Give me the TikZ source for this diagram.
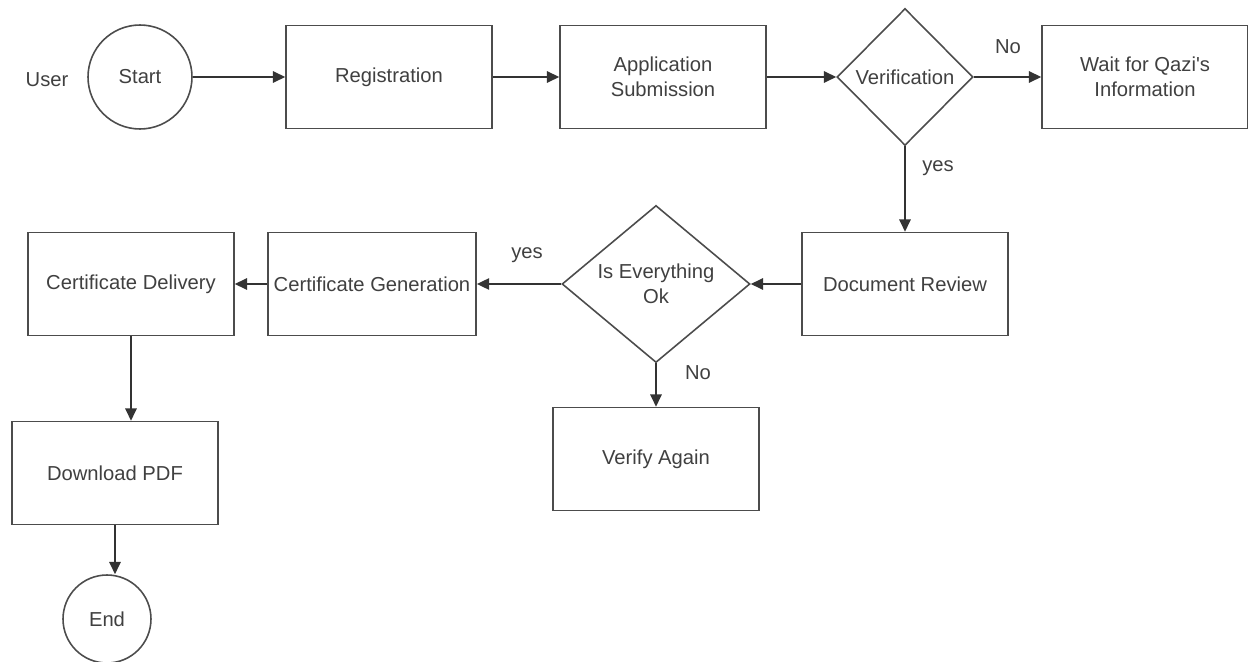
\documentclass[tikz,border=0pt]{standalone}
\usepackage{fontspec}
\setmainfont{Liberation Sans}
\usetikzlibrary{shapes.geometric,arrows.meta}

\begin{document}
\begin{tikzpicture}[x=0.02cm, y=-0.02cm, font=\fontsize{11.5}{14.5}\selectfont, >={Triangle[length=7pt,width=6.5pt]}]

\tikzstyle{every node} = [text=black!75]
\tikzstyle{box} = [rectangle, draw=black!70, line width=0.9pt, fill=white, minimum width=4.12cm, minimum height=2.06cm, align=center]
\tikzstyle{term} = [circle, draw=black!70, line width=0.9pt, inner sep=0pt]
\tikzstyle{choice} = [diamond, draw=black!70, line width=0.9pt, inner sep=0pt, align=center]
\tikzstyle{flow} = [->, draw=black!80, line width=0.9pt]

\useasboundingbox (0,0) rectangle (1248,662);

\node (usr) at (47,80) {User};
\node[term, minimum size=2.08cm] (start) at (140,77) {Start};
\node[box] (reg) at (389,77) {Registration};
\node[box] (app) at (663,77) {Application\\Submission};
\node[choice, minimum width=2.72cm, minimum height=2.74cm] (ver) at (905,77) {Verification};
\node[box] (wait) at (1145,77) {Wait for Qazi\textquotesingle s\\Information};

\node[box] (doc) at (905,284) {Document Review};
\node[choice, minimum width=3.76cm, minimum height=2.8cm] (ok) at (656,284) {Is Everything\\Ok};
\node[box] (gen) at (372,284) {Certificate Generation};
\node[box] (del) at (131,284) {Certificate Delivery};

\node[box] (again) at (656,459) {Verify Again};
\node[box] (pdf) at (115,473) {Download PDF};
\node[term, minimum size=1.76cm] (end) at (107,619) {End};

\node (no1) at (1008,47) {No};
\node (yes1) at (938,168) {yes};
\node (yes2) at (527,255) {yes};
\node (no2) at (698,373) {No};

\draw[flow] (start) -- (reg);
\draw[flow] (reg) -- (app);
\draw[flow] (app) -- (ver);
\draw[flow] (ver) -- (wait);
\draw[flow] (ver.south) -- (doc.north);

\draw[flow] (doc) -- (ok);
\draw[flow] (ok) -- (gen);
\draw[flow] (gen) -- (del);
\draw[flow] (ok.south) -- (again.north);

\draw[flow] (del.south) -- (del.south |- pdf.north);
\draw[flow] (pdf.south) -- (pdf.south |- end.north);

\end{tikzpicture}
\end{document}
